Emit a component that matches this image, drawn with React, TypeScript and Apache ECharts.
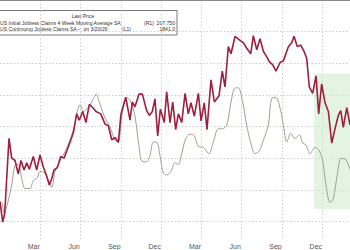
import React, { useEffect, useRef } from "react";
import * as echarts from "echarts";

// x = months since 1 Jan 2024
const continuingMonths = [0,0.2,0.35,0.67,0.87,1.12,1.36,1.56,1.79,1.99,2.18,2.48,2.73,2.98,3.22,3.48,3.67,3.85,4.02,4.27,4.52,4.77,4.97,5.21,5.46,5.71,5.90,6.16,6.40,6.65,6.85,7.15,7.50,7.82,8.07,8.32,8.56,8.81,9.01,9.36,9.68,9.85,10.05,10.35,10.60,10.92,11.12,11.34,11.54,11.74,11.94,12.23,12.41,12.66,12.86,13.08,13.28,13.53,13.78,14.02,14.22,14.47,14.77,14.97,15.21,15.41,15.71,15.96,16.31,16.55,16.75,17.00,17.20,17.50,17.87,18.12,18.37,18.67,18.86,19.12,19.36,19.61,19.86,20.05,20.31,20.55,20.85,21.10,21.47,21.72,21.89,22.14,22.39,22.64,22.84,23.03,23.28,23.53,23.73,23.95,24.20,24.45,24.70,24.94,25.19,25.37,25.56,25.82,26.06];
const continuingClaims = [1745,1719,1730,1825,1800,1797,1780,1797,1785,1794,1786,1802,1785,1804,1789,1777,1766,1774,1785,1788,1802,1800,1809,1820,1832,1856,1848,1859,1845,1868,1865,1859,1856,1843,1841,1823,1826,1820,1856,1877,1848,1871,1865,1881,1881,1860,1854,1859,1875,1828,1862,1845,1884,1845,1871,1836,1856,1845,1882,1856,1870,1853,1882,1847,1870,1836,1899,1871,1879,1910,1890,1941,1932,1954,1949,1946,1939,1932,1955,1937,1951,1935,1928,1922,1918,1910,1921,1923,1941,1946,1954,1941,1943,1935,1926,1890,1882,1904,1856,1894,1870,1859,1819,1837,1854,1860,1839,1864,1842];

const initialMonths = [0,0.13,0.30,0.54,0.87,1.12,1.36,1.62,1.86,2.23,2.48,2.78,2.98,3.35,3.60,3.85,4.10,4.47,4.84,5.21,5.51,5.76,5.96,6.20,6.57,6.90,7.15,7.45,7.82,8.19,8.56,8.81,9.05,9.31,9.46,9.75,10.05,10.35,10.55,10.92,11.17,11.41,11.67,11.91,12.16,12.41,12.73,13.03,13.28,13.53,13.83,14.15,14.47,14.77,15.14,15.56,15.88,16.25,16.55,16.88,17.20,17.45,17.74,18.07,18.37,18.67,18.99,19.31,19.61,19.98,20.23,20.55,20.90,21.10,21.35,21.65,21.97,22.29,22.54,22.78,23.08,23.46,23.78,24.03,24.27,24.57,24.82,25.12,25.39,25.76,26.06];
const initialClaims4wk = [188.9,188.9,183.8,188.0,197.3,206.6,207.0,200.3,195.6,195.6,199.4,200.7,203.7,202.8,199.4,196.1,203.7,208.7,213.0,218.5,224.8,232.4,235.4,232.0,234.1,237.5,240.4,235.4,229.0,224.8,218.5,217.6,229.0,237.5,238.7,236.6,229.9,215.5,208.7,208.3,211.3,217.6,217.6,211.3,202.8,202.0,203.7,207.9,207.0,212.1,219.3,221.4,220.6,215.5,215.1,212.1,217.6,223.9,223.9,225.6,236.6,243.0,243.4,236.6,225.6,217.2,212.1,213.4,218.5,225.6,238.3,238.7,232.4,225.6,217.6,221.8,219.3,221.0,217.2,216.3,212.1,215.1,213.4,208.7,197.3,188.9,191.0,202.4,210.0,209.2,204.5];

const tickLabels = ["Mar", "Jun", "Sep", "Dec", "Mar", "Jun", "Sep", "Dec"];

const legendNames = [
  "US Initial Jobless Claims 4 Week Moving Average SA",
  "US Continuing Jobless Claims SA \u2013  on 3/20/26",
];
const legendAxes = ["(R1)", "(L1)"];
const lastPrices = ["207.750", "1841.0"];

// shaded window: [start month, end month], in initial-claims units [top, bottom]
const shadeMonths = [23.38, 26.06];
const shadeValues = [250.1, 185.9];

const xMax = 26.06;
const FONT = "Liberation Sans";
const LEG_FS = 5.1;

export default function App() {
  const ref = useRef<HTMLDivElement>(null);
  useEffect(() => {
    document.body.style.margin = "0";
    const chart = echarts.init(ref.current!, null, { renderer: "svg" });
    const red = continuingMonths.map((m, i) => [m, continuingClaims[i]]);
    const gray = initialMonths.map((m, i) => [m, initialClaims4wk[i]]);
    const gridLine = { show: true, lineStyle: { color: "#cfcfcf", type: [1.5, 2] as any, width: 1 } };
    const axisX = [144, 122];
    const legendRows = legendNames.map((n, i) => {
      const y = 22.6 + i * 6.8;
      return [
        { type: "text", x: 0, y, style: { text: n, fontSize: LEG_FS, fontFamily: FONT, fill: "#333", verticalAlign: "middle" } },
        { type: "text", x: axisX[i], y, style: { text: legendAxes[i], fontSize: LEG_FS, fontFamily: FONT, fill: "#333", verticalAlign: "middle" } },
        { type: "text", x: 175, y, style: { text: lastPrices[i], fontSize: LEG_FS, fontFamily: FONT, fill: "#333", align: "right", verticalAlign: "middle" } },
      ];
    }).flat();
    chart.setOption({
      animation: false,
      grid: { left: 0, right: 0, top: -27.5, bottom: 7 },
      xAxis: {
        type: "value",
        min: 0,
        max: xMax,
        interval: 3,
        axisLine: { show: true, lineStyle: { color: "#8a8a8a", width: 1 } },
        axisTick: { show: true, inside: true, length: 2, lineStyle: { color: "#8a8a8a" } },
        minorTick: { show: true, splitNumber: 3, length: 2, lineStyle: { color: "#8a8a8a" } },
        splitLine: { ...gridLine, showMinLine: false, showMaxLine: false },
        axisLabel: {
          showMinLabel: false,
          showMaxLabel: false,
          fontSize: 7,
          fontFamily: FONT,
          color: "#555",
          margin: 2,
          padding: [0, 13, 0, 0],
          formatter: (v: number) => (v > 0 && v % 3 === 0 ? tickLabels[v / 3 - 1] ?? "" : ""),
        },
      },
      yAxis: [
        {
          type: "value",
          inverse: true,
          min: 0,
          max: 7.62,
          interval: 1,
          axisLine: { show: false },
          axisTick: { show: false },
          axisLabel: { show: false },
          splitLine: { ...gridLine, showMinLine: false, showMaxLine: false },
        },
        { type: "value", min: 1695.2, max: 2000, show: false, splitLine: { show: false } },
        { type: "value", min: 170.7, max: 285, show: false, splitLine: { show: false } },
      ],
      series: [
        {
          type: "line",
          name: legendNames[0],
          yAxisIndex: 2,
          data: gray,
          symbol: "none",
          smooth: 0.3,
          lineStyle: { color: "#9fa08c", width: 1 },
          markArea: {
            silent: true,
            itemStyle: { color: "rgba(204,236,198,0.55)" },
            data: [[
              { xAxis: shadeMonths[0], yAxis: shadeValues[0] },
              { xAxis: shadeMonths[1], yAxis: shadeValues[1] },
            ]],
          },
        },
        {
          type: "line",
          name: legendNames[1],
          yAxisIndex: 1,
          data: red,
          symbol: "none",
          lineStyle: { color: "#9e1f3f", width: 1.6 },
        },
      ],
      graphic: [
        {
          type: "group",
          z: 100,
          children: [
            { type: "rect", shape: { x: -2, y: 10.5, width: 179, height: 24.5 }, style: { fill: "#fff", stroke: "#7a7a7a", lineWidth: 1 } },
            { type: "text", x: 83, y: 15.6, style: { text: "Last Price", fontSize: LEG_FS, fontFamily: FONT, fill: "#333", align: "center", verticalAlign: "middle" } },
            ...legendRows,
          ],
        },
      ],
    });
    return () => chart.dispose();
  }, []);
  return <div ref={ref} style={{ width: 350, height: 250 }} />;
}
